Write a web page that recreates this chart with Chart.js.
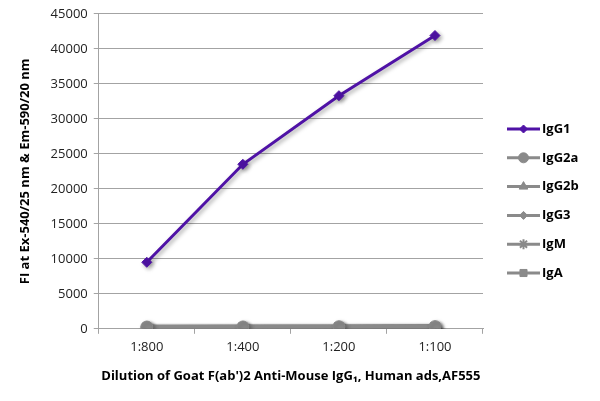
<!DOCTYPE html>
<html>
<head>
<meta charset="utf-8">
<script src="https://cdn.jsdelivr.net/npm/chart.js@4/dist/chart.umd.min.js"></script>
<style>
  html, body { margin: 0; padding: 0; background: #fff; }
  #wrap { width: 600px; height: 401px; position: relative; }
</style>
</head>
<body>
<div id="wrap"><canvas id="chart" width="600" height="401"></canvas></div>
<script>
// data
const dilutions = ['1:800', '1:400', '1:200', '1:100'];
const igg1 = [9500, 23500, 33300, 41900];
const igg2a = [250, 260, 290, 310];
const igg2b = [200, 230, 250, 280];
const igg3 = [300, 320, 340, 380];
const igm = [180, 200, 230, 250];
const iga = [220, 240, 270, 300];
const yTicks = [0, 5000, 10000, 15000, 20000, 25000, 30000, 35000, 40000, 45000];

const purple = '#4f12a6';
const gray = '#8a8a8a';
const axisGray = '#a3a3a3';
const fontFamily = '"Open Sans", "DejaVu Sans", sans-serif';

function series(label, data, color, style, radius, width) {
    return {
        label: label,
        data: data,
        borderColor: color,
        backgroundColor: color,
        borderWidth: width,
        pointStyle: style,
        pointRadius: radius,
        pointHoverRadius: radius,
        pointBorderWidth: style === 'star' ? 2 : 1,
        tension: 0
    };
}

const datasets = [
    series('IgG1', igg1, purple, 'rectRot', 5, 3),
    series('IgG2a', igg2a, gray, 'circle', 6, 4),
    series('IgG2b', igg2b, gray, 'triangle', 6, 4),
    series('IgG3', igg3, gray, 'rectRot', 5, 4),
    series('IgM', igm, gray, 'star', 6, 4),
    series('IgA', iga, gray, 'rect', 6, 4)
];

// soft drop shadow under the lines
const shadowPlugin = {
    id: 'shadow',
    beforeDatasetsDraw(chart) {
        const c = chart.ctx;
        c.save();
        c.shadowColor = 'rgba(0,0,0,0.35)';
        c.shadowBlur = 4;
        c.shadowOffsetX = 2;
        c.shadowOffsetY = 2;
    },
    afterDatasetsDraw(chart) {
        chart.ctx.restore();
    }
};

// legend on the right: short line with marker, bold label
const sideLegend = {
    id: 'sideLegend',
    afterDraw(chart) {
        const c = chart.ctx;
        const x0 = 507, x1 = 540, yStart = 129, step = 28.8;
        chart.data.datasets.forEach((ds, i) => {
            const y = yStart + i * step;
            c.save();
            c.strokeStyle = ds.borderColor;
            c.lineWidth = 3;
            c.beginPath();
            c.moveTo(x0, y);
            c.lineTo(x1, y);
            c.stroke();
            c.fillStyle = ds.backgroundColor;
            c.strokeStyle = ds.borderColor;
            c.lineWidth = ds.pointBorderWidth;
            Chart.helpers.drawPoint(c, {
                pointStyle: ds.pointStyle,
                radius: ds.pointStyle === 'rectRot' ? 4 : 5,
                rotation: 0,
                borderWidth: ds.pointBorderWidth
            }, (x0 + x1) / 2, y);
            c.fillStyle = '#000';
            c.font = 'bold 13px ' + fontFamily;
            c.textBaseline = 'middle';
            c.textAlign = 'left';
            c.fillText(ds.label, x1 + 2, y);
            c.restore();
        });
    }
};

new Chart(document.getElementById('chart'), {
    type: 'line',
    data: { labels: dilutions, datasets: datasets },
    plugins: [shadowPlugin, sideLegend],
    options: {
        responsive: false,
        animation: false,
        layout: { padding: { top: 12, right: 117, left: 13, bottom: 13 } },
        plugins: {
            legend: { display: false },
            tooltip: { enabled: false }
        },
        scales: {
            x: {
                offset: true,
                grid: {
                    offset: true,
                    drawOnChartArea: false,
                    drawTicks: true,
                    tickLength: 5,
                    color: axisGray
                },
                border: { display: true, color: axisGray, width: 1 },
                ticks: {
                    color: '#222',
                    font: { family: fontFamily, size: 13 },
                    padding: 6,
                    maxRotation: 0
                },
                title: {
                    display: true,
                    text: 'Dilution of Goat F(ab\')2 Anti-Mouse IgG\u2081, Human ads,AF555',
                    color: '#000',
                    font: { family: fontFamily, size: 13, weight: 'bold' },
                    padding: { top: 7 }
                }
            },
            y: {
                min: 0,
                max: 45000,
                afterBuildTicks(axis) {
                    axis.ticks = yTicks.map(v => ({ value: v }));
                },
                grid: {
                    color: axisGray,
                    drawTicks: true,
                    tickLength: 5
                },
                border: { display: true, color: axisGray, width: 1 },
                ticks: {
                    color: '#222',
                    font: { family: fontFamily, size: 13 },
                    padding: 6,
                    callback: v => String(v)
                },
                title: {
                    display: true,
                    text: 'FI at Ex-540/25 nm & Em-590/20 nm',
                    color: '#000',
                    font: { family: fontFamily, size: 13, weight: 'bold' },
                    padding: { bottom: 12 }
                }
            }
        }
    }
});
</script>
</body>
</html>
